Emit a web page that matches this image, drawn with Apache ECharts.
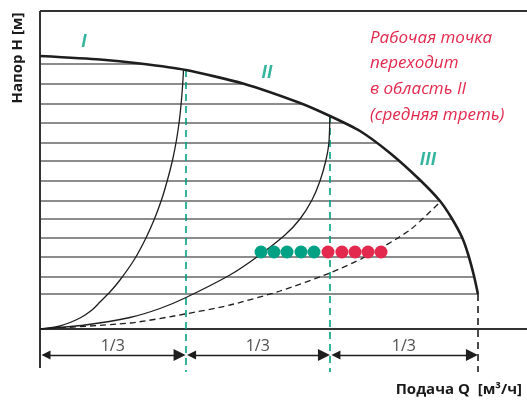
<!DOCTYPE html>
<html>
<head>
<meta charset="utf-8">
<script src="https://cdn.jsdelivr.net/npm/echarts@6/dist/echarts.min.js"></script>
<style>
html,body{margin:0;padding:0;background:#fff;}
#chart{width:527px;height:401px;}
</style>
</head>
<body>
<div id="chart"></div>
<script>
// ---- data (Q in thirds of max flow, H in arbitrary head units) ----
const Q_PUMP = [0, 0.411, 0.685, 1.0, 1.390, 1.781, 1.986, 2.192, 2.397, 2.603, 2.740, 2.815, 2.890, 2.932, 2.973, 3.0];
const H_PUMP = [27.3, 26.95, 26.55, 25.9, 24.55, 22.6, 21.3, 19.8, 17.6, 14.9, 12.8, 11.2, 9.2, 7.5, 5.3, 3.5];

const Q_SYS1 = [0, 0.137, 0.274, 0.356, 0.411, 0.479, 0.548, 0.644, 0.719, 0.781, 0.832, 0.873, 0.908, 0.935, 0.955, 0.969, 0.978, 0.983];
const H_SYS1 = [0, 0.3, 1.1, 1.9, 2.7, 3.7, 4.9, 6.9, 8.9, 10.9, 12.9, 14.9, 16.9, 18.9, 20.9, 22.9, 24.6, 25.9];

const Q_SYS2 = [0, 0.308, 0.616, 0.822, 0.993, 1.301, 1.486, 1.678, 1.781, 1.863, 1.918, 1.959, 1.979, 1.986];
const H_SYS2 = [0, 0.4, 1.15, 2.05, 3.1, 5.4, 7.2, 9.4, 11.0, 12.9, 14.8, 16.9, 18.6, 21.3];

const Q_SYS3 = [0, 0.616, 0.993, 1.301, 1.644, 1.986, 2.226, 2.534, 2.740];
const H_SYS3 = [0, 0.6, 1.5, 2.4, 3.8, 5.6, 7.2, 9.9, 12.7];

const GRID_H = [26.5, 24.5, 22.5, 20.6, 18.6, 16.8, 14.8, 12.8, 11.0, 9.1, 7.2, 5.2, 3.5];

const DOT_H = 7.7;
const DOT_Q_TEAL = [1.514, 1.603, 1.692, 1.788, 1.877];
const DOT_Q_RED = [1.973, 2.068, 2.158, 2.247, 2.336];

const THIRDS = [0, 0.997, 1.986, 3.0];
const THIRD_LABELS = ['1/3', '1/3', '1/3'];

const ZONE_LABELS = ['I', 'II', 'III'];
const ZONE_Q = [0.301, 1.555, 2.658];
const ZONE_H = [28.7, 25.6, 16.9];

const NOTE_LINES = ['Рабочая точка', 'переходит', 'в область II', '(средняя треть)'];
const Y_TITLE = 'Напор H [м]';
const X_TITLE = 'Подача Q  [м³/ч]';

const Q_MAX = 3.336, H_MAX = 31.8, H_MIN = -7.2;
const H_AXIS_BOTTOM = -3.9, H_DASH_BOTTOM = -4.3, H_DIM = -2.6, H_DIM_LABEL = -1.7;

// ---- helpers ----
const TEAL = '#00a184', RED = '#e3294d', INK = '#1e1e1e', GRID_C = '#666';
const PX_PER_Q = 487 / Q_MAX;
const ARROW_LEN = 12;
function zip(a, b) { return a.map((v, i) => [v, b[i]]); }
function pumpQAt(h) {
  for (let i = 0; i < H_PUMP.length - 1; i++) {
    const h0 = H_PUMP[i], h1 = H_PUMP[i + 1];
    if ((h0 - h) * (h1 - h) <= 0) {
      const t = h0 === h1 ? 0 : (h - h0) / (h1 - h0);
      return Q_PUMP[i] + t * (Q_PUMP[i + 1] - Q_PUMP[i]);
    }
  }
  return Q_PUMP[Q_PUMP.length - 1];
}
function pumpHAt(q) {
  for (let i = 0; i < Q_PUMP.length - 1; i++) {
    if (q >= Q_PUMP[i] && q <= Q_PUMP[i + 1]) {
      const t = (q - Q_PUMP[i]) / (Q_PUMP[i + 1] - Q_PUMP[i]);
      return H_PUMP[i] + t * (H_PUMP[i + 1] - H_PUMP[i]);
    }
  }
  return H_PUMP[H_PUMP.length - 1];
}

const gridLines = GRID_H.map(h => ({ coords: [[0, h], [pumpQAt(h), h]] }));
const frameLines = [
  { coords: [[0, H_MAX], [Q_MAX, H_MAX]] },
  { coords: [[0, H_MAX], [0, H_AXIS_BOTTOM]] },
  { coords: [[0, 0], [Q_MAX, 0]] }
];
const tealVerticals = [THIRDS[1], THIRDS[2]].map(q => ({ coords: [[q, pumpHAt(q)], [q, H_DASH_BOTTOM]] }));
const blackVertical = [{ coords: [[THIRDS[3], pumpHAt(THIRDS[3])], [THIRDS[3], H_DASH_BOTTOM]] }];
const inset = (ARROW_LEN / 2) / PX_PER_Q;
const dimLines = [];
for (let i = 0; i < THIRDS.length - 1; i++) {
  dimLines.push({ coords: [[THIRDS[i] + inset, H_DIM], [THIRDS[i + 1] - inset, H_DIM]] });
}

const chart = echarts.init(document.getElementById('chart'), null, { renderer: 'canvas' });
chart.setOption({
  animation: false,
  backgroundColor: '#fff',
  grid: { left: 40, right: 0, top: 11, bottom: 0 },
  xAxis: { type: 'value', min: 0, max: Q_MAX, show: false },
  yAxis: { type: 'value', min: H_MIN, max: H_MAX, show: false },
  series: [
    { type: 'lines', coordinateSystem: 'cartesian2d', silent: true, z: 1,
      lineStyle: { color: GRID_C, width: 1.6, opacity: 1 }, data: gridLines },
    { type: 'lines', coordinateSystem: 'cartesian2d', silent: true, z: 2,
      lineStyle: { color: '#333', width: 2, opacity: 1 }, data: frameLines },
    { type: 'lines', coordinateSystem: 'cartesian2d', silent: true, z: 2,
      lineStyle: { color: TEAL, width: 1.6, type: [7, 5], opacity: 1 }, data: tealVerticals },
    { type: 'lines', coordinateSystem: 'cartesian2d', silent: true, z: 2,
      lineStyle: { color: INK, width: 1.6, type: [7, 5], opacity: 1 }, data: blackVertical },
    { type: 'lines', coordinateSystem: 'cartesian2d', silent: true, z: 3,
      symbol: ['triangle', 'triangle'], symbolSize: [9, ARROW_LEN],
      lineStyle: { color: INK, width: 1.4, opacity: 1 }, data: dimLines },
    { type: 'line', smooth: 0.25, showSymbol: false, silent: true, z: 4,
      lineStyle: { color: INK, width: 1.3 }, data: zip(Q_SYS1, H_SYS1) },
    { type: 'line', smooth: 0.25, showSymbol: false, silent: true, z: 4,
      lineStyle: { color: INK, width: 1.3 }, data: zip(Q_SYS2, H_SYS2) },
    { type: 'line', smooth: 0.25, showSymbol: false, silent: true, z: 4,
      lineStyle: { color: INK, width: 1.3, type: [6, 4] }, data: zip(Q_SYS3, H_SYS3) },
    { type: 'line', smooth: 0.2, showSymbol: false, silent: true, z: 5,
      lineStyle: { color: INK, width: 2.6 }, data: zip(Q_PUMP, H_PUMP) },
    { type: 'scatter', symbolSize: 13, silent: true, z: 6,
      itemStyle: { color: TEAL, opacity: 1 }, data: DOT_Q_TEAL.map(q => [q, DOT_H]) },
    { type: 'scatter', symbolSize: 13, silent: true, z: 6,
      itemStyle: { color: RED, opacity: 1 }, data: DOT_Q_RED.map(q => [q, DOT_H]) },
    { type: 'scatter', symbolSize: 0, silent: true, z: 7,
      label: { show: true, position: 'inside', formatter: p => THIRD_LABELS[p.dataIndex],
        color: '#222', fontSize: 16, fontFamily: 'Open Sans' },
      data: THIRD_LABELS.map((l, i) => [(THIRDS[i] + THIRDS[i + 1]) / 2, H_DIM_LABEL]) },
    { type: 'scatter', symbolSize: 0, silent: true, z: 7,
      label: { show: true, position: 'inside', formatter: p => ZONE_LABELS[p.dataIndex],
        color: TEAL, fontSize: 17, fontWeight: 'bold', fontStyle: 'italic', fontFamily: 'Open Sans' },
      data: ZONE_Q.map((q, i) => [q, ZONE_H[i]]) }
  ],
  graphic: [
    { type: 'text', x: 18, y: 58, rotation: Math.PI / 2,
      style: { text: Y_TITLE, fill: '#1a1a1a', font: 'bold 15px "Open Sans"', align: 'center', verticalAlign: 'middle' } },
    { type: 'text', x: 522, y: 390,
      style: { text: X_TITLE, fill: '#1a1a1a', font: 'bold 15px "Open Sans"', align: 'right', verticalAlign: 'middle' } },
    { type: 'text', x: 370, y: 25,
      style: { text: NOTE_LINES.join('\n'), fill: RED, font: 'italic 17px "Open Sans"', lineHeight: 25.7, align: 'left', verticalAlign: 'top' } }
  ]
});
</script>
</body>
</html>
